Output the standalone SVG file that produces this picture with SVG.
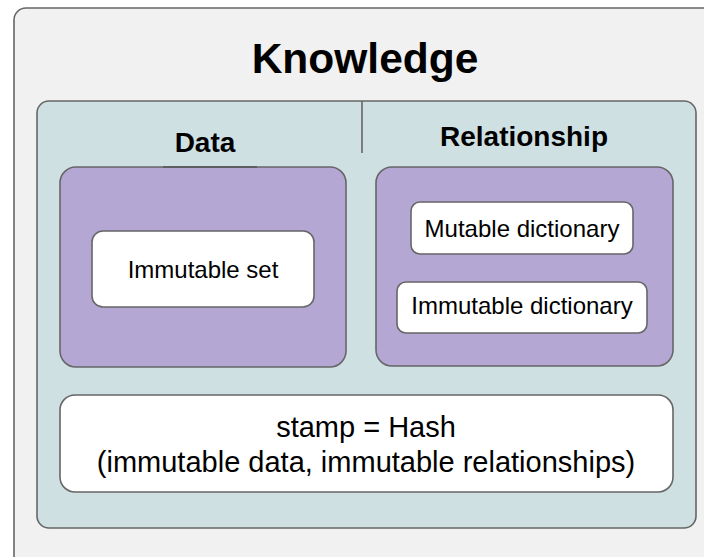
<svg xmlns="http://www.w3.org/2000/svg" width="704" height="557" viewBox="0 0 704 557">
<style>
.box{stroke:#666666;stroke-width:1.6}
.outer{fill:#f0f1f0}
.teal{fill:#cfe0e3}
.purple{fill:#b4a7d3}
.white{fill:#ffffff}
text{font-family:"Liberation Sans",Arial,Helvetica,sans-serif;fill:#000;text-anchor:middle}
.h1{font-size:42.5px;font-weight:bold}
.h2{font-size:28px;font-weight:bold}
.t{font-size:24px}
.s{font-size:29px}
</style>
<rect x="0" y="0" width="704" height="557" fill="#ffffff"/>
<g id="knowledge">
<rect class="box outer" x="14" y="8" width="720" height="570" rx="12"/>
<text class="h1" x="365" y="73">Knowledge</text>
</g>
<g id="container">
<rect class="box teal" x="37" y="101" width="659" height="427" rx="12"/>
<line x1="362" y1="101" x2="362" y2="153" stroke="#666666" stroke-width="1.6"/>
<text class="h2" x="205" y="152">Data</text>
<text class="h2" x="524" y="146">Relationship</text>
</g>
<g id="data">
<rect class="box purple" x="60" y="167" width="286" height="200" rx="16"/>
<line x1="163" y1="167" x2="257" y2="167" stroke="#555555" stroke-width="1.6"/>
</g>
<g id="immutable-set">
<rect class="box white" x="92" y="231" width="222" height="76" rx="11"/>
<text class="t" x="203" y="278">Immutable set</text>
</g>
<g id="relationship">
<rect class="box purple" x="376" y="167" width="297" height="199" rx="16"/>
</g>
<g id="mutable-dictionary">
<rect class="box white" x="411" y="202" width="222" height="52" rx="9"/>
<text class="t" x="522" y="237">Mutable dictionary</text>
</g>
<g id="immutable-dictionary">
<rect class="box white" x="397" y="282" width="250" height="51" rx="9"/>
<text class="t" x="522" y="314">Immutable dictionary</text>
</g>
<g id="stamp">
<rect class="box white" x="60" y="395" width="613" height="97" rx="15"/>
<text class="s" x="366" y="437">stamp = Hash</text>
<text class="s" x="366" y="472">(immutable data, immutable relationships)</text>
</g>
<g id="connectors"></g>
</svg>
